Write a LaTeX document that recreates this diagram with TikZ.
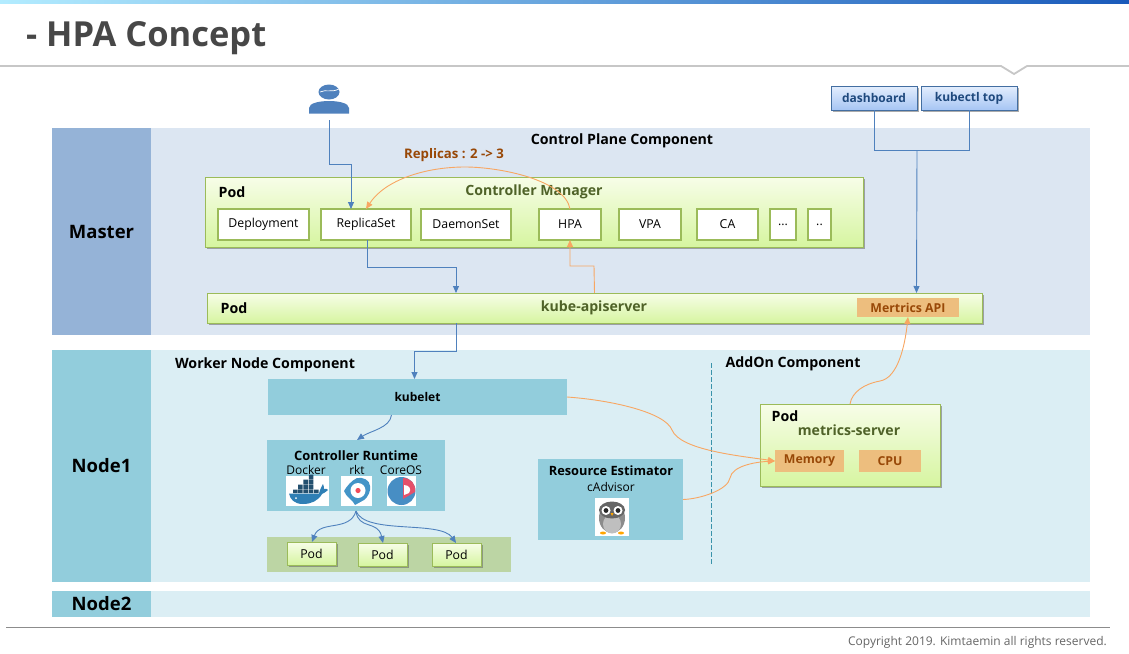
\documentclass[tikz,border=0pt]{standalone}
\usepackage{fontspec}
\setmainfont{Open Sans}
\usetikzlibrary{shadows,arrows.meta,calc}
\definecolor{panelA}{HTML}{DCE6F2}
\definecolor{panelB}{HTML}{DBEEF4}
\definecolor{sideA}{HTML}{95B3D7}
\definecolor{sideB}{HTML}{92CDDC}
\definecolor{gborder}{HTML}{9BBB59}
\definecolor{gtop}{HTML}{F7FDE8}
\definecolor{gbot}{HTML}{D6F5A0}
\definecolor{gtext}{HTML}{4F6228}
\definecolor{orangeL}{HTML}{F79646}
\definecolor{orangeF}{HTML}{EDBE7E}
\definecolor{brownT}{HTML}{984807}
\definecolor{blueL}{HTML}{4F81BD}
\definecolor{darkB}{HTML}{1F497D}
\definecolor{btop}{HTML}{E4EEFD}
\definecolor{bbot}{HTML}{A6C5F4}
\definecolor{stripC}{HTML}{BCD5A4}
\definecolor{sepC}{HTML}{3A93AB}
\definecolor{whale}{HTML}{2F7FB5}
\definecolor{crate}{HTML}{24506F}
\newcommand\bx[7][]{%
  \pgfmathsetmacro\bxw{#6-#4}\pgfmathsetmacro\bxh{#7-#5}%
  \pgfmathsetmacro\bxx{(#4+#6)/2}\pgfmathsetmacro\bxy{(#5+#7)/2}%
  \node[#3,minimum width=\bxw pt,minimum height=\bxh pt] (#2) at (\bxx,\bxy) {\raisebox{-1pt}{#1}};}
\tikzset{
  x=1pt,y=-1pt,
  flat/.style={inner sep=0pt,outer sep=0pt},
  greenbox/.style={flat,draw=gborder,line width=1pt,top color=gtop,bottom color=gbot,
     drop shadow={shadow xshift=2pt,shadow yshift=-2pt,fill=black!60,opacity=.55}},
  innerbox/.style={flat,draw=gborder,line width=1.4pt,fill=white,font=\fontsize{12.3}{14}\selectfont},
  podbox/.style={greenbox,font=\fontsize{12.3}{14}\selectfont},
  metric/.style={flat,fill=orangeF,text=brownT,font=\fontsize{12.3}{14}\selectfont\bfseries},
  bluebox/.style={flat,draw=blueL!85!black,line width=.8pt,top color=btop,bottom color=bbot,text=darkB,
     font=\fontsize{12}{14}\selectfont\bfseries,drop shadow={shadow xshift=2pt,shadow yshift=-2pt,fill=black!60,opacity=.55}},
  side/.style={flat,font=\fontsize{18.5}{22}\selectfont\bfseries},
  lbl/.style={inner sep=0pt,font=\fontsize{14.2}{16}\selectfont\bfseries},
  glbl/.style={inner sep=0pt,text=gtext,font=\fontsize{14.1}{16}\selectfont\bfseries},
  small/.style={inner sep=0pt,font=\fontsize{12}{14}\selectfont},
  bconn/.style={draw=blueL,line width=.9pt},
  barrow/.style={bconn,-{Triangle[length=7pt,width=6pt]}},
  oarrow/.style={draw=orangeL!85!white,line width=.9pt,-{Triangle[length=7pt,width=6pt]}},
  icon/.style={flat,fill=white},
}
\begin{document}
\begin{tikzpicture}
\useasboundingbox (0,0) rectangle (1129,653);
\fill[white] (0,0) rectangle (1129,653);
% top bar
\shade[left color=blue!25!cyan!30!white,right color=blue!60!cyan!70!black!90] (0,0) rectangle (1129,3);
\node[inner sep=0pt,anchor=west,text=black!72,font=\fontsize{34.5}{38}\selectfont\bfseries] (title) at (26,38) {- HPA Concept};
\draw[black!22,line width=1.8pt] (0,66) -- (1001,66) -- (1014,74) -- (1027,66) -- (1129,66);
% bands
\bx[]{panelM}{flat,fill=panelA}{151}{128}{1090}{335}
\bx[]{panelN}{flat,fill=panelB}{151}{350}{1090}{582}
\bx[]{panelO}{flat,fill=panelB}{151}{591}{1090}{617}
\bx[Master]{master}{side,fill=sideA}{52}{128}{151}{335}
\bx[Node1]{nodeA}{side,fill=sideB}{52}{350}{151}{582}
\bx[Node2]{nodeB}{side,fill=sideB}{52}{591}{151}{617}
\draw[black!45,line width=1pt] (6,627.5) -- (1110,627.5);
\node[inner sep=0pt,anchor=east,text=black!60,font=\fontsize{12}{14}\selectfont] (copy) at (1107,642) {Copyright 2019. Kimtaemin all rights reserved.};
\node[lbl] (cpc) at (622,141) {Control Plane Component};
\node[lbl] (wnc) at (265,365) {Worker Node Component};
\node[lbl] (aoc) at (793,364) {AddOn Component};
% separator
\coordinate (sepA) at (711,363); \coordinate (sepB) at (711,565);
\draw[sepC,line width=.8pt,dash pattern=on 5pt off 2pt] (sepA) -- (sepB);
% controller manager pod
\bx[]{cm}{greenbox}{205}{177}{863}{247}
\node[lbl] (cmpod) at (232,192) {Pod};
\node[glbl] (cmname) at (534,192) {Controller Manager};
\bx[Deployment]{dep}{innerbox}{218}{209}{309}{240}
\bx[ReplicaSet]{rs}{innerbox}{321}{209}{411}{240}
\bx[DaemonSet]{ds}{innerbox}{421}{209}{511}{240}
\bx[HPA]{hpa}{innerbox}{539}{209}{601}{240}
\bx[VPA]{vpa}{innerbox}{619}{209}{681}{240}
\bx[CA]{ca}{innerbox}{697}{209}{758}{240}
\bx[...]{dotsA}{innerbox}{770}{209}{796}{240}
\bx[..]{dotsB}{innerbox}{808}{209}{831}{240}
% apiserver
\bx[]{api}{greenbox}{207}{293}{982}{323}
\node[lbl] (apipod) at (234,308) {Pod};
\node[glbl] (apiname) at (594,308) {kube-apiserver};
\bx[Mertrics API]{mapi}{metric}{857}{298}{959}{317}
% kubelet
\bx[\fontsize{12}{14}\selectfont\bfseries kubelet]{kubelet}{flat,fill=sideB}{268}{379}{567}{415}
% runtime
\bx[]{crt}{flat,fill=sideB}{267}{440}{445}{511}
\node[inner sep=0pt,font=\fontsize{12.9}{14}\selectfont\bfseries] (crtname) at (356,456) {Controller Runtime};
\node[small] (dockerT) at (306,470) {Docker};
\node[small] (rktT) at (357,470) {rkt};
\node[small] (coreT) at (401,470) {CoreOS};
\bx[]{dockerI}{icon}{286}{476}{329}{506}
\bx[]{rktI}{icon}{341}{476}{372}{506}
\bx[]{coreI}{icon}{387}{476}{416}{506}
% docker whale
\fill[crate] (298,484.5) rectangle (302.6,489) (303.4,484.5) rectangle (308,489) (308.8,484.5) rectangle (313.4,489)
             (303.4,479.5) rectangle (308,484) (308.8,479.5) rectangle (313.4,484)
             (308.8,474.5) rectangle (313.4,479) (293,489.5) rectangle (297.5,493) (298,489.5) rectangle (302.6,493) (303.4,489.5) rectangle (308,493) (308.8,489.5) rectangle (313.4,493) (314,489.5) rectangle (318.5,493);
\fill[whale] (289,493.5) -- (319,493.5) .. controls (320,489) and (322,486) .. (323,484) .. controls (324,486) and (324,488) .. (324,489) .. controls (326,488) and (327,489) .. (328,490) .. controls (326,492) and (324,493) .. (322,494) .. controls (318,501) and (311,504) .. (303,504) .. controls (294,504) and (290,499) .. (289,493.5) -- cycle;
\fill[white] (296,498) circle (1);
% rkt logo
\fill[blueL!85!cyan] (357,478) .. controls (363,477) and (370,480) .. (370,486) .. controls (371,491) and (368,497) .. (364,500) -- (355,505) .. controls (353,500) and (346,497) .. (344,491) .. controls (347,486) and (351,481) .. (357,478) -- cycle;
\fill[white] (358,490.5) circle (7.5);
\fill[red!70!purple!70!white] (358,490.5) circle (2.6);
% coreos logo
\fill[blueL!90!cyan] (401.5,491) circle (14);
\fill[red!65!white!90!blue] (403,478) .. controls (411,478) and (416,484) .. (415,492) -- (403,499) -- cycle;
\fill[white] (404,485) .. controls (409,485) and (412,489) .. (409,493) -- (404,495) -- cycle;
% pods
\bx[]{strip}{flat,fill=stripC}{267}{537}{511}{572}
\bx[Pod]{podA}{podbox}{287}{542}{336}{565}
\bx[Pod]{podB}{podbox}{358}{543}{407}{566}
\bx[Pod]{podC}{podbox}{432}{543}{481}{566}
% resource estimator
\bx[]{re}{flat,fill=sideB}{538}{459}{683}{540}
\node[inner sep=0pt,font=\fontsize{12.8}{14}\selectfont\bfseries] (reT) at (611,471) {Resource Estimator};
\node[small] (caT) at (611,487) {cAdvisor};
\bx[]{owl}{icon}{595}{498}{629}{536}
\fill[black!45] (612,518) ellipse (13 and 15);
\fill[black!25] (612,524) ellipse (9 and 9.5);
\fill[black!60] (612,510) ellipse (13 and 8.5);
\fill[white] (606,510.5) circle (4.5) (618,510.5) circle (4.5);
\fill[black!85] (606,510.5) circle (2.4) (618,510.5) circle (2.4);
\fill[orange!70!yellow] (610.5,513) -- (613.5,513) -- (612,516) -- cycle (603,533) ellipse (3 and 1.5) (621,533) ellipse (3 and 1.5);
% metrics server
\bx[]{ms}{greenbox}{760}{404}{940}{486}
\node[lbl] (mspod) at (785,416) {Pod};
\node[glbl] (msname) at (849,430) {metrics-server};
\bx[Memory]{mem}{metric}{775}{450}{844}{472}
\bx[CPU]{cpu}{metric}{859}{450}{921}{472}
% dashboard
\bx[dashboard]{dash}{bluebox}{831}{86}{917}{110}
\bx[kubectl top]{ktop}{bluebox}{921}{86}{1017}{110}
% user
\node[flat,minimum width=40pt,minimum height=29pt] (user) at (329,99.5) {};
\fill[blueL] (309,113.5) -- (309,108) .. controls (309,103) and (320,101) .. (329,101) .. controls (338,101) and (349,103) .. (349,108) -- (349,113.5) -- cycle;
\fill[blueL] (329,92) ellipse (10.5 and 7.5);
\draw[white,line width=.7pt] (320,92) .. controls (326,89) and (331,93) .. (339,89);
% connectors
\coordinate (userOut) at (329,120);
\draw[barrow] (userOut) -- (329,164) -| (rs.north -| 351,0);
\draw[barrow] ([xshift=1pt]rs.south) |- (456,267) -- ([xshift=-138.5pt]api.north);
\draw[barrow] ([xshift=-138.5pt]api.south) -- (456,351) -| ([xshift=-3pt]kubelet.north);
\draw[oarrow] (api.north) -- (594,266) -| (hpa.south);
\draw[oarrow] (hpa.north) .. controls (565,180) and (500,167) .. (465,167) .. controls (425,167) and (385,180) .. (366,209);
\draw[bconn] (dash.south) |- (917,150.5) -| (ktop.south);
\draw[barrow] (917,150.5) -- ([xshift=-.5pt]api.north -| 917,0);
\draw[barrow] ([xshift=-26pt]kubelet.south) .. controls (390,428) and (370,431) .. (357,440);
\draw[barrow] (crt.south) .. controls (350,532) and (320,520) .. (312,542);
\draw[barrow] (crt.south) .. controls (358,530) and (378,520) .. (383,543);
\draw[barrow] (crt.south) .. controls (365,535) and (440,520) .. (456,543);
\draw[oarrow] (kubelet.east) .. controls (610,400) and (665,412) .. (672,430) .. controls (680,450) and (740,456) .. (mem.west);
\draw[oarrow] (re.east) .. controls (700,499) and (728,490) .. (730,478) .. controls (732,466) and (755,462) .. (mem.west);
\draw[oarrow] (ms.north) .. controls (852,392) and (864,384) .. (880,381) .. controls (898,378) and (905,345) .. (mapi.south -| 908,0);
\node[inner sep=0pt,text=brownT,font=\fontsize{13.2}{14}\selectfont\bfseries] (rep) at (454,155) {Replicas : 2 -> 3};
\end{tikzpicture}
\end{document}
